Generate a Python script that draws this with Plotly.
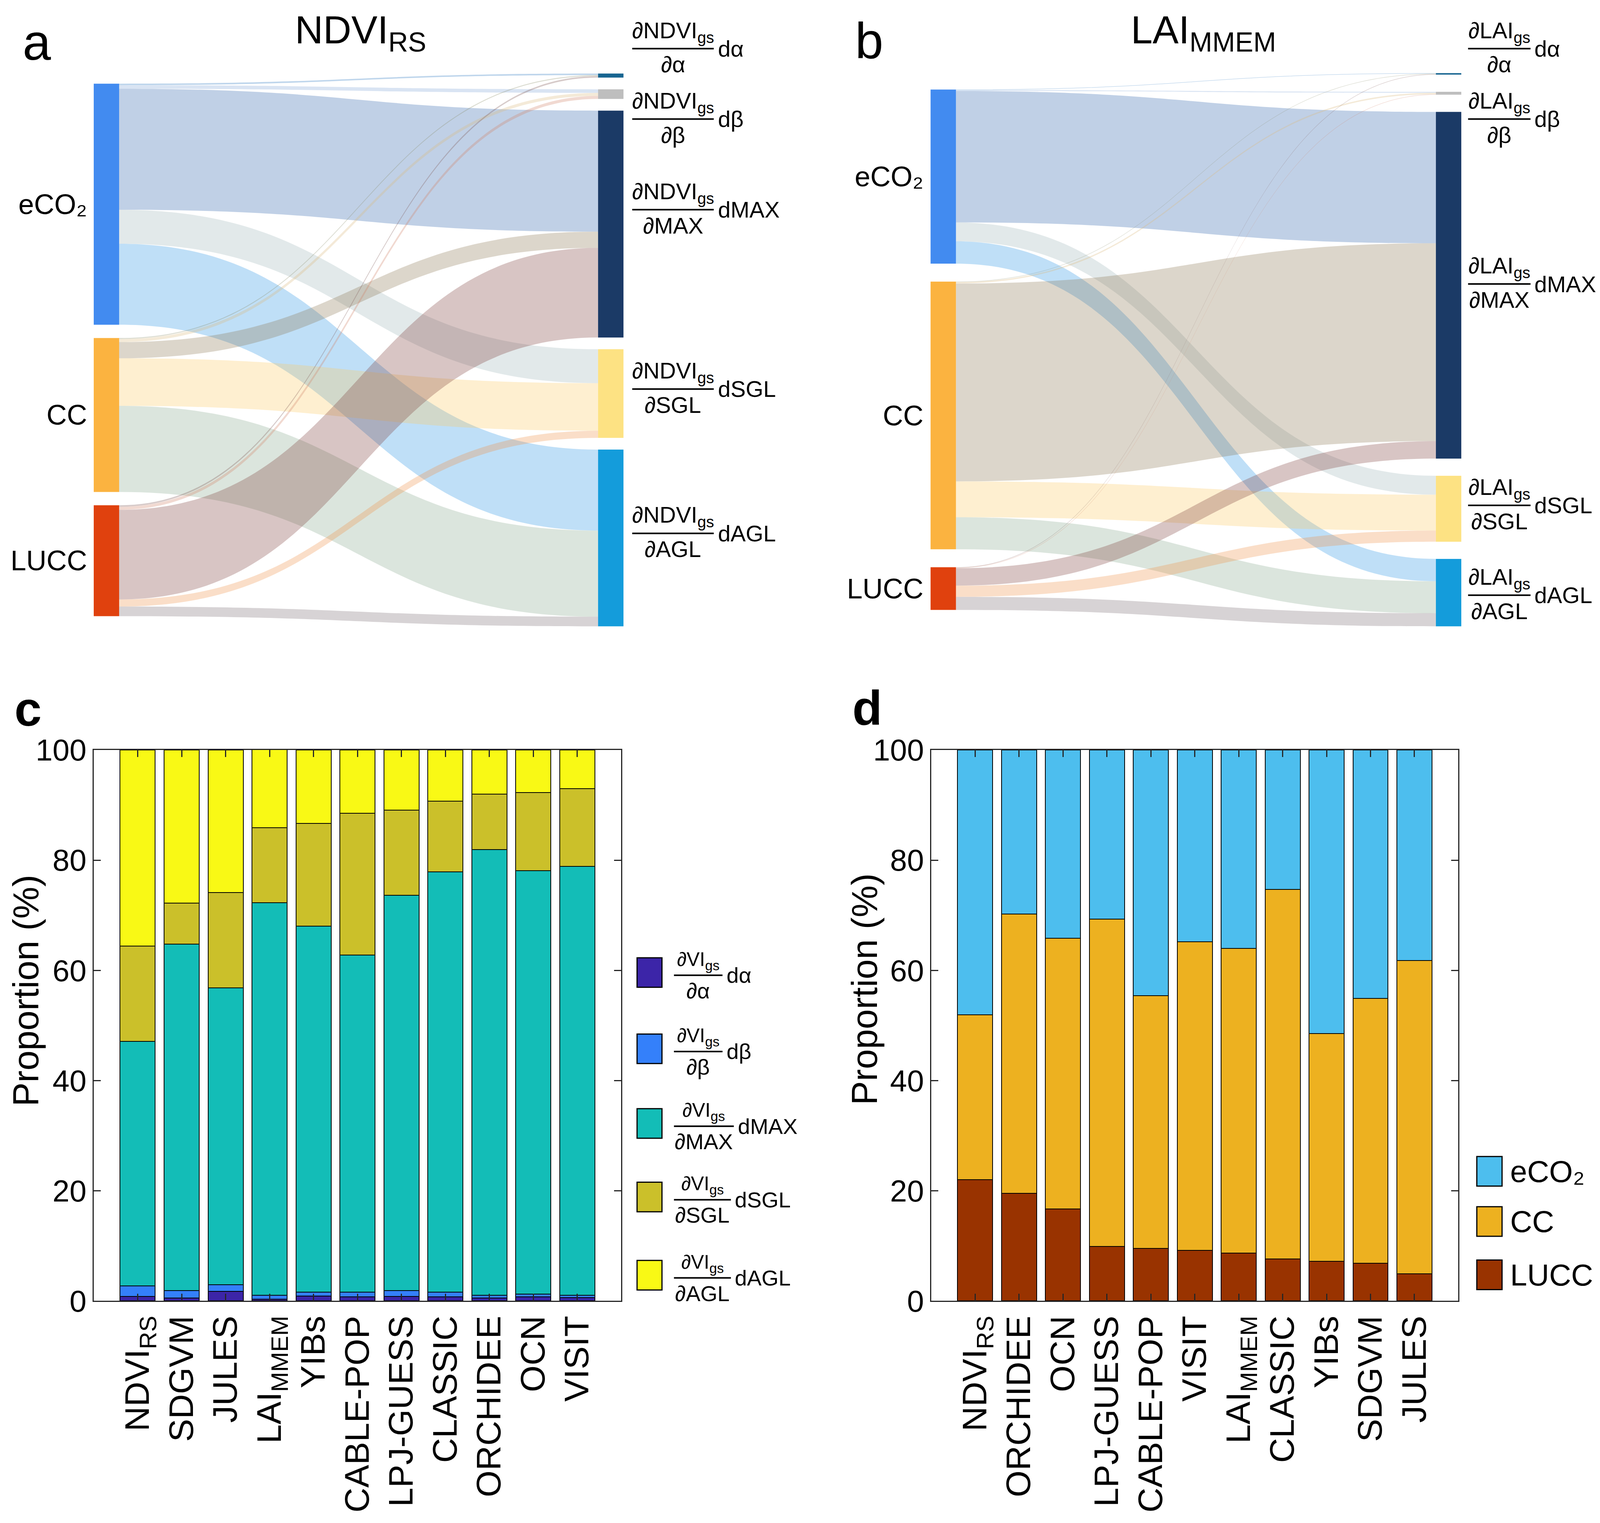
import plotly.graph_objects as go

# reference frame used to place things (converted to paper fractions)
W, H = 4925, 3899
# expected size of the drawing area in css px (figure fills the window)
W_CSS, H_CSS = 4080, 3883
FONT = "Liberation Sans, Arial, sans-serif"

# ---------------- data ----------------
drivers = ["eCO₂", "CC", "LUCC"]
terms = ["α", "β", "MAX", "SGL", "AGL"]

# share of total change (%), rows = drivers, columns = terms
ndvi_flows = [
    [0.3, 0.7, 23.9, 6.7, 16.0],
    [0.2, 0.6, 3.2, 9.4, 17.0],
    [0.3, 0.6, 17.7, 1.4, 1.9],
]
lai_flows = [
    [0.1, 0.2, 27.1, 3.9, 4.6],
    [0.1, 0.3, 40.8, 7.4, 6.6],
    [0.1, 0.1, 3.6, 2.3, 2.7],
]

models_c = ["NDVI<sub>RS</sub>", "SDGVM", "JULES", "LAI<sub>MMEM</sub>", "YIBs", "CABLE-POP",
            "LPJ-GUESS", "CLASSIC", "ORCHIDEE", "OCN", "VISIT"]
c_alpha = [0.8, 0.5, 1.7, 0.3, 0.9, 0.7, 0.8, 0.7, 0.5, 0.7, 0.6]
c_beta = [1.9, 1.4, 1.2, 0.7, 0.7, 0.9, 1.1, 0.9, 0.5, 0.5, 0.4]
c_max = [44.4, 62.9, 53.9, 71.3, 66.4, 61.2, 71.7, 76.3, 80.9, 76.9, 77.9]
c_sgl = [17.3, 7.4, 17.3, 13.6, 18.7, 25.7, 15.5, 12.8, 10.1, 14.2, 14.1]
c_agl = [35.6, 27.8, 25.9, 14.2, 13.3, 11.5, 10.9, 9.3, 8.0, 7.7, 7.0]

models_d = ["NDVI<sub>RS</sub>", "ORCHIDEE", "OCN", "LPJ-GUESS", "CABLE-POP", "VISIT",
            "LAI<sub>MMEM</sub>", "CLASSIC", "YIBs", "SDGVM", "JULES"]
d_lucc = [22.0, 19.5, 16.7, 9.9, 9.5, 9.2, 8.7, 7.6, 7.2, 6.8, 4.9]
d_cc = [29.9, 50.7, 49.1, 59.4, 45.9, 56.0, 55.3, 67.1, 41.3, 48.1, 56.9]
d_eco2 = [48.1, 29.8, 34.2, 30.7, 44.6, 34.8, 36.0, 25.3, 51.5, 45.1, 38.2]

# ---------------- styles ----------------
driver_colors = ["#428BF0", "#FBB340", "#E0410E"]
term_colors = ["#176591", "#BEBEBE", "#1B3A66", "#FDE283", "#149CDB"]
c_colors = ["#3C25A8", "#3480FA", "#13BDB7", "#CBC02A", "#F9F915"]
d_colors = ["#4DBEEE", "#EDB120", "#993300"]

THICK = round(78 * W_CSS / W)


def px(x):
    return x / W


def py(y):
    return 1 - y / H


def rgb(h):
    return [int(h[i:i + 2], 16) for i in (1, 3, 5)]


def link_color(a, b, alpha=0.3):
    m = [round((p + q) / 2) for p, q in zip(rgb(a), rgb(b))]
    return "rgba(%d,%d,%d,%s)" % (m[0], m[1], m[2], alpha)


def sankey(flows, box, pad_t, pad_s):
    x0, x1, y0, y1 = box
    w = (x1 - x0) / W * W_CSS
    h = (y1 - y0) / H * H_CSS
    src_tot = [sum(r) for r in flows]
    tgt_tot = [sum(c) for c in zip(*flows)]
    total = sum(src_tot)
    ky = (h - (len(tgt_tot) - 1) * pad_t) / total
    tgt_y, y = [], 0
    for v in tgt_tot:
        tgt_y.append((y + v * ky / 2) / h)
        y += v * ky + pad_t
    col = total * ky + (len(src_tot) - 1) * pad_s
    src_y, y = [], (h - col) / 2
    for v in src_tot:
        src_y.append((y + v * ky / 2) / h)
        y += v * ky + pad_s
    src, tgt, val, colr = [], [], [], []
    for i, row in enumerate(flows):
        for j, v in enumerate(row):
            src.append(i)
            tgt.append(len(flows) + j)
            val.append(v)
            colr.append(link_color(driver_colors[i], term_colors[j]))
    tr = go.Sankey(
        domain=dict(x=[px(x0), px(x1)], y=[py(y1), py(y0)]),
        arrangement="fixed",
        hoverinfo="none",
        node=dict(pad=pad_t, thickness=THICK, line=dict(width=0),
                  label=[""] * (len(src_tot) + len(tgt_tot)),
                  color=driver_colors + term_colors,
                  x=[THICK / 2 / w] * len(src_tot) + [1 - THICK / 2 / w] * len(tgt_tot),
                  y=src_y + tgt_y),
        link=dict(source=src, target=tgt, value=val, color=colr),
    )
    centers = [y0 + s * (y1 - y0) for s in src_y]
    return tr, centers


fig = go.Figure()
ann = []
shapes = []


def text(t, x, y, size, xa="center", ya="middle", **kw):
    ann.append(dict(text=t, x=px(x), y=py(y), xref="paper", yref="paper", showarrow=False,
                    xanchor=xa, yanchor=ya, font=dict(size=size, color="black", family=FONT), **kw))


def fraction(num, term, xl, xr, yl, fnum, fden):
    xc = (xl + xr) / 2
    shapes.append(dict(type="line", xref="paper", yref="paper", x0=px(xl), x1=px(xr),
                       y0=py(yl), y1=py(yl), line=dict(color="black", width=4)))
    text(num, xc, yl - 4, fnum, ya="bottom")
    text("∂" + term, xc, yl + 6, fden, ya="top")
    text("d" + term, xr + 10, yl, fden, xa="left")


# ---------------- panel a / b : sankey ----------------
tr_a, cen_a = sankey(ndvi_flows, (280, 1917, 181, 1602), 30, 34)
tr_b, cen_b = sankey(lai_flows, (2866, 4506, 180, 1602), 44, 46)
fig.add_trace(tr_a)
fig.add_trace(tr_b)

for lab, yc in zip(drivers, cen_a):
    text(lab, 262, yc, 72, xa="right")
for lab, yc in zip(drivers, cen_b):
    text(lab, 2846, yc, 72, xa="right")

lines_a = [117, 298, 531, 992, 1363]
lines_b = [117, 298, 722, 1291, 1522]
for t, yl in zip(terms, lines_a):
    fraction("∂NDVI<sub>gs</sub>", t, 1944, 2196, yl, 58, 58)
for t, yl in zip(terms, lines_b):
    fraction("∂LAI<sub>gs</sub>", t, 4527, 4720, yl, 58, 58)

text("NDVI<sub>RS</sub>", 1105, 10, 100, ya="top")
text("LAI<sub>MMEM</sub>", 3710, 10, 100, ya="top")
text("a", 104, 100, 130)
text("b", 2676, 96, 130)
text("<b>c</b>", 77, 1814, 125)
text("<b>d</b>", 2670, 1811, 125)

# ---------------- panel c / d : stacked bars ----------------
for vals, col in zip([c_alpha, c_beta, c_max, c_sgl, c_agl], c_colors):
    fig.add_trace(go.Bar(x=models_c, y=vals, width=0.8, xaxis="x", yaxis="y", showlegend=False,
                         marker=dict(color=col, line=dict(color="black", width=2)), hoverinfo="y"))
for vals, col in zip([d_lucc, d_cc, d_eco2], d_colors[::-1]):
    fig.add_trace(go.Bar(x=models_d, y=vals, width=0.8, xaxis="x2", yaxis="y2", showlegend=False,
                         marker=dict(color=col, line=dict(color="black", width=2)), hoverinfo="y"))

axis_style = dict(showline=True, linewidth=3, linecolor="#262626", mirror="ticks", ticks="inside",
                  ticklen=18, tickwidth=3, tickcolor="#262626", showgrid=False, zeroline=False,
                  automargin=False)
ydom = [py(3336), py(1920)]
xfont = dict(size=88, color="black", family=FONT)
yfont = dict(size=78, color="black", family=FONT)
fig.update_layout(
    xaxis=dict(domain=[px(280), px(1910)], anchor="y", type="category", range=[-1, 11],
               tickangle=-90, tickfont=xfont, **axis_style),
    yaxis=dict(domain=ydom, anchor="x", range=[0, 100], dtick=20, tickfont=yfont, **axis_style),
    xaxis2=dict(domain=[px(2868), px(4497)], anchor="y2", type="category", range=[-1, 11],
                tickangle=-90, tickfont=xfont, **axis_style),
    yaxis2=dict(domain=ydom, anchor="x2", range=[0, 100], dtick=20, tickfont=yfont, **axis_style),
)

text("Proportion (%)", 70, 2538, 92, textangle=-90)
text("Proportion (%)", 2661, 2535, 92, textangle=-90)

# legend of panel c
rows_c = [2492, 2688, 2880, 3069, 3270]
line_end_c = [2223, 2223, 2258, 2249, 2249]
for t, yc, xe, col in zip(terms, rows_c, line_end_c, c_colors):
    shapes.append(dict(type="rect", xref="paper", yref="paper", x0=px(1959), x1=px(2036),
                       y0=py(yc + 38), y1=py(yc - 38), fillcolor=col, line=dict(color="black", width=3)))
    fraction("∂VI<sub>gs</sub>", t, 2073, xe, yc + 7, 50, 56)

# legend of panel d
rows_d = [3003, 3132, 3269]
for lab, yc, col in zip(drivers, rows_d, d_colors):
    shapes.append(dict(type="rect", xref="paper", yref="paper", x0=px(4554), x1=px(4632),
                       y0=py(yc + 38), y1=py(yc - 38), fillcolor=col, line=dict(color="black", width=3)))
    text(lab, 4655, yc, 78, xa="left")

fig.update_layout(
    autosize=True,
    margin=dict(l=0, r=0, t=0, b=0, pad=0, autoexpand=False),
    paper_bgcolor="white", plot_bgcolor="white",
    barmode="stack", bargap=0.2, showlegend=False,
    font=dict(family=FONT, color="black"),
    annotations=ann, shapes=shapes,
)

fig.write_html("out.html", default_width="100%", default_height="calc(100vh - 16px)")
